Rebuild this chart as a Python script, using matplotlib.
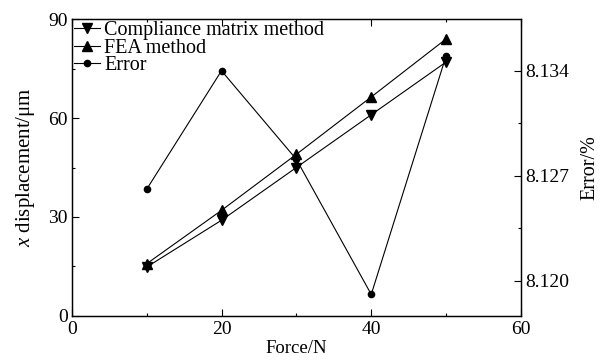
import matplotlib
matplotlib.use("Agg")
import matplotlib.pyplot as plt
from matplotlib.ticker import MultipleLocator, FixedLocator

plt.rcParams['font.family'] = ['Liberation Serif', 'DejaVu Serif']
plt.rcParams['mathtext.fontset'] = 'custom'
plt.rcParams['mathtext.rm'] = 'Liberation Serif'
plt.rcParams['mathtext.it'] = 'Liberation Serif:italic'

force = [10, 20, 30, 40, 50]
compliance = [14.8, 29.0, 45.0, 61.0, 77.0]
fea = [15.8, 32.0, 49.0, 66.4, 84.0]
error = [8.1261, 8.1340, 8.1281, 8.1191, 8.1350]

fig = plt.figure(figsize=(6.03, 3.61), dpi=100)
ax = fig.add_axes([0.119, 0.125, 0.745, 0.822])
ax2 = ax.twinx()

lw = 0.8
l1, = ax.plot(force, compliance, color='black', lw=lw, marker='v', ms=6.5, label='Compliance matrix method')
l2, = ax.plot(force, fea, color='black', lw=lw, marker='^', ms=6.5, label='FEA method')
l3, = ax2.plot(force, error, color='black', lw=lw, marker='o', ms=4.5, label='Error')

ax.set_xlim(0, 60)
ax.set_ylim(0, 90)
ax2.set_ylim(8.11767, 8.13744)

ax.xaxis.set_major_locator(MultipleLocator(20))
ax.xaxis.set_minor_locator(MultipleLocator(10))
ax.yaxis.set_major_locator(MultipleLocator(30))
ax.yaxis.set_minor_locator(MultipleLocator(15))
ax2.yaxis.set_major_locator(FixedLocator([8.120, 8.127, 8.134]))
ax2.yaxis.set_minor_locator(FixedLocator([8.1235, 8.1305]))
ax2.set_yticklabels(['8.120', '8.127', '8.134'])

for a in (ax, ax2):
    a.tick_params(which='major', direction='in', length=5, width=0.8, labelsize=14, pad=3)
    a.tick_params(which='minor', direction='in', length=2.5, width=0.8)
    for s in a.spines.values():
        s.set_linewidth(0.9)
ax.tick_params(axis='x', which='both', top=True, pad=4)
ax.tick_params(axis='y', which='both', right=False)

ax.set_xlabel('Force/N', fontsize=13.5, labelpad=1)
ax.set_ylabel(r'$x$ displacement/μm', fontsize=15, labelpad=8)
ax2.set_ylabel('Error/%', fontsize=14.5, labelpad=8)

leg = ax.legend(handles=[l1, l2, l3], loc='upper left', frameon=False, fontsize=14.5,
                handlelength=1.3, handletextpad=0.2, labelspacing=-0.08,
                borderaxespad=0.0, borderpad=0.1)

fig.savefig('out.png', dpi=100)
